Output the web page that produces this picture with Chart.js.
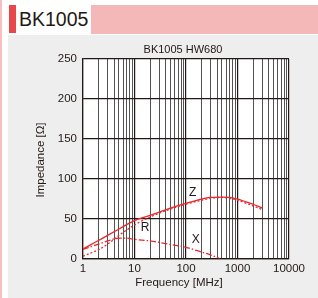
<!DOCTYPE html>
<html><head><meta charset="utf-8">
<script src="https://cdn.jsdelivr.net/npm/chart.js@4"></script>
<style>
html,body{margin:0;padding:0;background:#fff;width:318px;height:298px;overflow:hidden;position:relative;font-family:"Liberation Sans",Arial,sans-serif}
#edge{position:absolute;left:0;top:0;width:2px;height:298px;background:#f6c0c3}
#bar{position:absolute;left:9px;top:5px;width:7px;height:28px;background:#e8474c}
#band{position:absolute;left:91px;top:5px;width:227px;height:29px;background:#f5b8b9}
#head{position:absolute;left:19px;top:4px;font-size:19.5px;color:#231815;line-height:30px}
#panel{position:absolute;left:8px;top:35px;width:310px;height:263px;background:#eeeeee}
canvas{position:absolute;left:0;top:0}
</style></head>
<body>
<div id="edge"></div><div id="bar"></div><div id="band"></div><div id="head">BK1005</div>
<div id="panel"></div>
<canvas id="c" width="318" height="298"></canvas>
<script>
const chartTitle = "BK1005 HW680";
const xTitle = "Frequency [MHz]";
const yTitle = "Impedance [Ω]";
const xMajorTicks = [1, 10, 100, 1000, 10000];
const xMinorSteps = [2, 3, 4, 5, 6, 7, 8, 9];
const yTicks = [0, 50, 100, 150, 200, 250];

const freqZ = [1, 2, 3, 5, 10, 20, 50, 100, 200, 300, 500, 700, 1000, 2000, 3000];
const impZ  = [12, 22.5, 29, 37, 47.5, 54, 63, 69, 74.5, 76.5, 77, 76.5, 74.5, 68, 63.5];
const freqR = [1, 2, 3, 5, 10, 20, 50, 100, 200, 300, 500, 700, 1000, 2000, 3000];
const resR  = [3, 11, 18, 29, 42, 52, 62, 68, 73, 75.5, 76.5, 75.5, 73, 66, 61.5];
const freqX = [1, 2, 3, 5, 7, 10, 20, 50, 100, 200, 300, 450];
const reacX = [11.5, 18, 22, 25.5, 25.5, 24, 22, 17.5, 14, 8, 4.5, 0];

const curveLabels = [
  {text: "Z", f: 135, v: 83},
  {text: "R", f: 16, v: 38},
  {text: "X", f: 155, v: 23}
];

const allXTicks = [];
xMajorTicks.forEach((m, i) => {
  allXTicks.push(m);
  if (i < xMajorTicks.length - 1) xMinorSteps.forEach(s => allXTicks.push(m * s));
});
const isMajor = v => xMajorTicks.includes(v);

const red = '#e8282d';
const pts = (xs, ys) => xs.map((x, i) => ({x: x, y: ys[i]}));

const FONT = '"Liberation Sans", Arial, sans-serif';

const deco = {
  id: 'deco',
  beforeDraw(chart) {
    const {ctx, chartArea: a} = chart;
    ctx.save();
    ctx.fillStyle = '#ffffff';
    ctx.fillRect(a.left, a.top, a.right - a.left, a.bottom - a.top);
    ctx.restore();
  },
  afterDraw(chart) {
    const {ctx, chartArea: a, scales} = chart;
    ctx.save();
    ctx.fillStyle = '#231815';
    ctx.textAlign = 'center';
    ctx.textBaseline = 'middle';
    ctx.font = '11px ' + FONT;
    ctx.fillText(chartTitle, 183, 49.5);
    ctx.font = '11.5px ' + FONT;
    ctx.fillText(xTitle, 179, 283);
    ctx.save();
    ctx.translate(40.5, 160);
    ctx.rotate(-Math.PI / 2);
    ctx.fillText(yTitle, 0, 0);
    ctx.restore();
    ctx.font = '12px ' + FONT;
    curveLabels.forEach(l => {
      ctx.fillText(l.text, scales.x.getPixelForValue(l.f), scales.y.getPixelForValue(l.v));
    });
    ctx.restore();
  }
};

new Chart(document.getElementById('c'), {
  type: 'line',
  data: {
    datasets: [
      {label: 'Z', data: pts(freqZ, impZ), borderColor: red, borderWidth: 1.3, pointRadius: 0, cubicInterpolationMode: 'monotone', fill: false},
      {label: 'R', data: pts(freqR, resR), borderColor: red, borderWidth: 1.3, borderDash: [2, 2], pointRadius: 0, cubicInterpolationMode: 'monotone', fill: false},
      {label: 'X', data: pts(freqX, reacX), borderColor: red, borderWidth: 1.3, borderDash: [6, 2, 1.5, 2], pointRadius: 0, cubicInterpolationMode: 'monotone', fill: false}
    ]
  },
  options: {
    responsive: false,
    animation: false,
    devicePixelRatio: 1,
    layout: {padding: {left: 0, right: 29, top: 59, bottom: 0}},
    plugins: {legend: {display: false}, tooltip: {enabled: false}, title: {display: false}},
    scales: {
      x: {
        type: 'logarithmic', min: 1, max: 10000,
        afterBuildTicks: s => { s.ticks = allXTicks.map(v => ({value: v, major: isMajor(v)})); },
        afterFit: s => { s.height = 39.5; },
        ticks: {
          autoSkip: false, maxRotation: 0, padding: 3, color: '#231815',
          font: {size: 11.5, family: FONT},
          callback: v => isMajor(v) ? String(v) : ''
        },
        grid: {
          drawTicks: false,
          color: c => (c.tick && isMajor(c.tick.value)) ? '#231815' : '#3f3f3f',
          lineWidth: c => (c.tick && isMajor(c.tick.value)) ? 1.2 : 0.9
        },
        border: {color: '#231815', width: 1.2}
      },
      y: {
        type: 'linear', min: 0, max: 250,
        afterBuildTicks: s => { s.ticks = yTicks.map(v => ({value: v})); },
        afterFit: s => { s.width = 83; },
        ticks: {padding: 6, color: '#231815', font: {size: 11.5, family: FONT}},
        grid: {drawTicks: false, color: '#231815', lineWidth: 1.2},
        border: {color: '#231815', width: 1.2}
      }
    }
  },
  plugins: [deco]
});
</script>
</body></html>
